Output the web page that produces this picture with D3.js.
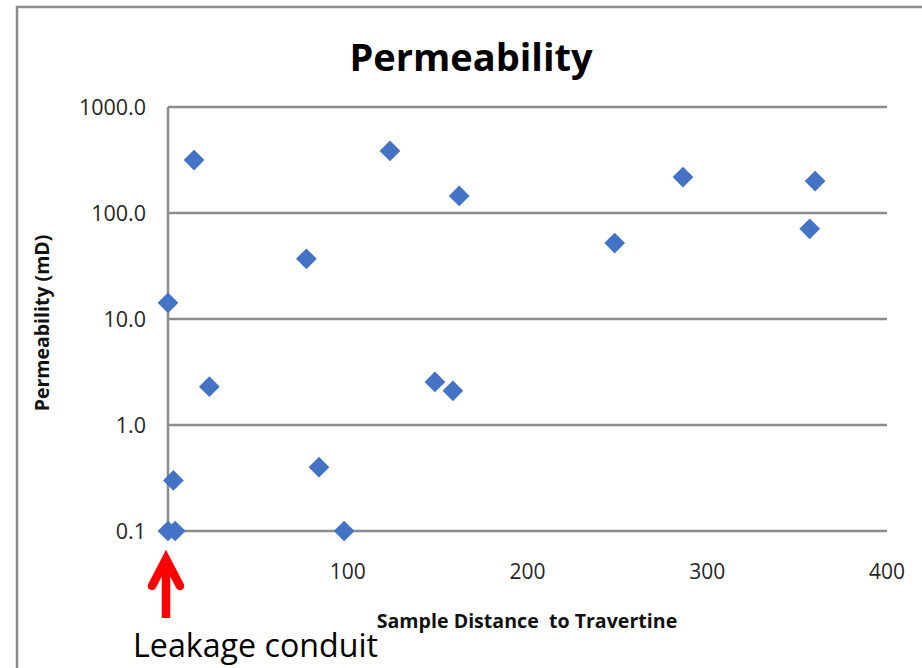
<!DOCTYPE html>
<html>
<head>
<meta charset="utf-8">
<script src="https://cdn.jsdelivr.net/npm/d3@7"></script>
<style>
html,body{margin:0;padding:0;background:#fff;}
svg{display:block;}
</style>
</head>
<body>
<svg id="chart" width="922" height="668"></svg>
<script>
const distance     = [0, 0, 4, 3, 14.5, 23, 77, 84, 98, 123.5, 148.5, 158.5, 162, 248.5, 286.5, 357, 360];
const permeability = [14.2, 0.1, 0.1, 0.3, 316, 2.3, 37, 0.4, 0.1, 385, 2.55, 2.1, 145, 52, 218, 71, 200];
const yTicks = [0.1, 1, 10, 100, 1000];
const xTicks = [100, 200, 300, 400];
const title = "Permeability";
const xTitle = "Sample Distance  to Travertine";
const yTitle = "Permeability (mD)";
const annotation = "Leakage conduit";

const svg = d3.select("#chart");
const font = "'Open Sans', 'Noto Sans', sans-serif";

// outer frame
svg.append("path").attr("d", "M17,668 V7 H922").attr("fill", "none")
  .attr("stroke", "#8a8a8a").attr("stroke-width", 2.5);

const x = d3.scaleLinear().domain([0, 400]).range([168, 887]);
const y = d3.scaleLog().domain([0.1, 1000]).range([531, 107]);

// gridlines
svg.append("g").selectAll("line").data(yTicks).join("line")
  .attr("x1", x(0)).attr("x2", x(400))
  .attr("y1", d => y(d)).attr("y2", d => y(d))
  .attr("stroke", "#8c8c8c").attr("stroke-width", 2.5);
// vertical axis line
svg.append("line").attr("x1", x(0)).attr("x2", x(0))
  .attr("y1", y(1000)).attr("y2", y(0.1))
  .attr("stroke", "#8c8c8c").attr("stroke-width", 2.5);

// y tick labels
svg.append("g").selectAll("text").data(yTicks).join("text")
  .attr("x", 146).attr("y", d => y(d)).attr("dy", "0.35em")
  .attr("text-anchor", "end").attr("font-family", font).attr("font-size", 21.5)
  .attr("fill", "#262626").text(d => d.toFixed(1));

// x tick labels
svg.append("g").selectAll("text").data(xTicks).join("text")
  .attr("x", d => x(d)).attr("y", 572).attr("dy", "0.35em")
  .attr("text-anchor", "middle").attr("font-family", font).attr("font-size", 21)
  .attr("fill", "#262626").text(d => d);

// title
svg.append("text").attr("x", 471).attr("y", 71).attr("text-anchor", "middle")
  .attr("font-family", font).attr("font-weight", "bold").attr("font-size", 38)
  .attr("fill", "#000").text(title);

// axis titles
svg.append("text").attr("x", 527).attr("y", 628).attr("text-anchor", "middle")
  .attr("font-family", font).attr("font-weight", "bold").attr("font-size", 19.6)
  .style("white-space", "pre")
  .attr("fill", "#111").text(xTitle);
svg.append("text").attr("transform", "translate(49,323) rotate(-90)")
  .attr("text-anchor", "middle")
  .attr("font-family", font).attr("font-weight", "bold").attr("font-size", 19.5)
  .attr("fill", "#111").text(yTitle);

// points
const sym = d3.symbol().type(d3.symbolSquare).size(215);
svg.append("g").selectAll("path").data(distance.map((d, i) => [d, permeability[i]])).join("path")
  .attr("d", sym)
  .attr("transform", d => `translate(${x(d[0])},${y(d[1])}) rotate(45)`)
  .attr("fill", "#4472c4");

// annotation arrow
const ax = x(0) - 2;
svg.append("line").attr("x1", ax).attr("x2", ax).attr("y1", 618).attr("y2", 562)
  .attr("stroke", "#ff0000").attr("stroke-width", 8.5);
svg.append("path").attr("d", `M${ax-14},586 L${ax},559 L${ax+14},586`)
  .attr("fill", "none").attr("stroke", "#ff0000").attr("stroke-width", 8.5)
  .attr("stroke-linecap", "round").attr("stroke-linejoin", "miter");
svg.append("text").attr("x", 133).attr("y", 657)
  .attr("font-family", font).attr("font-size", 32.2)
  .attr("fill", "#000").text(annotation);
</script>
</body>
</html>
